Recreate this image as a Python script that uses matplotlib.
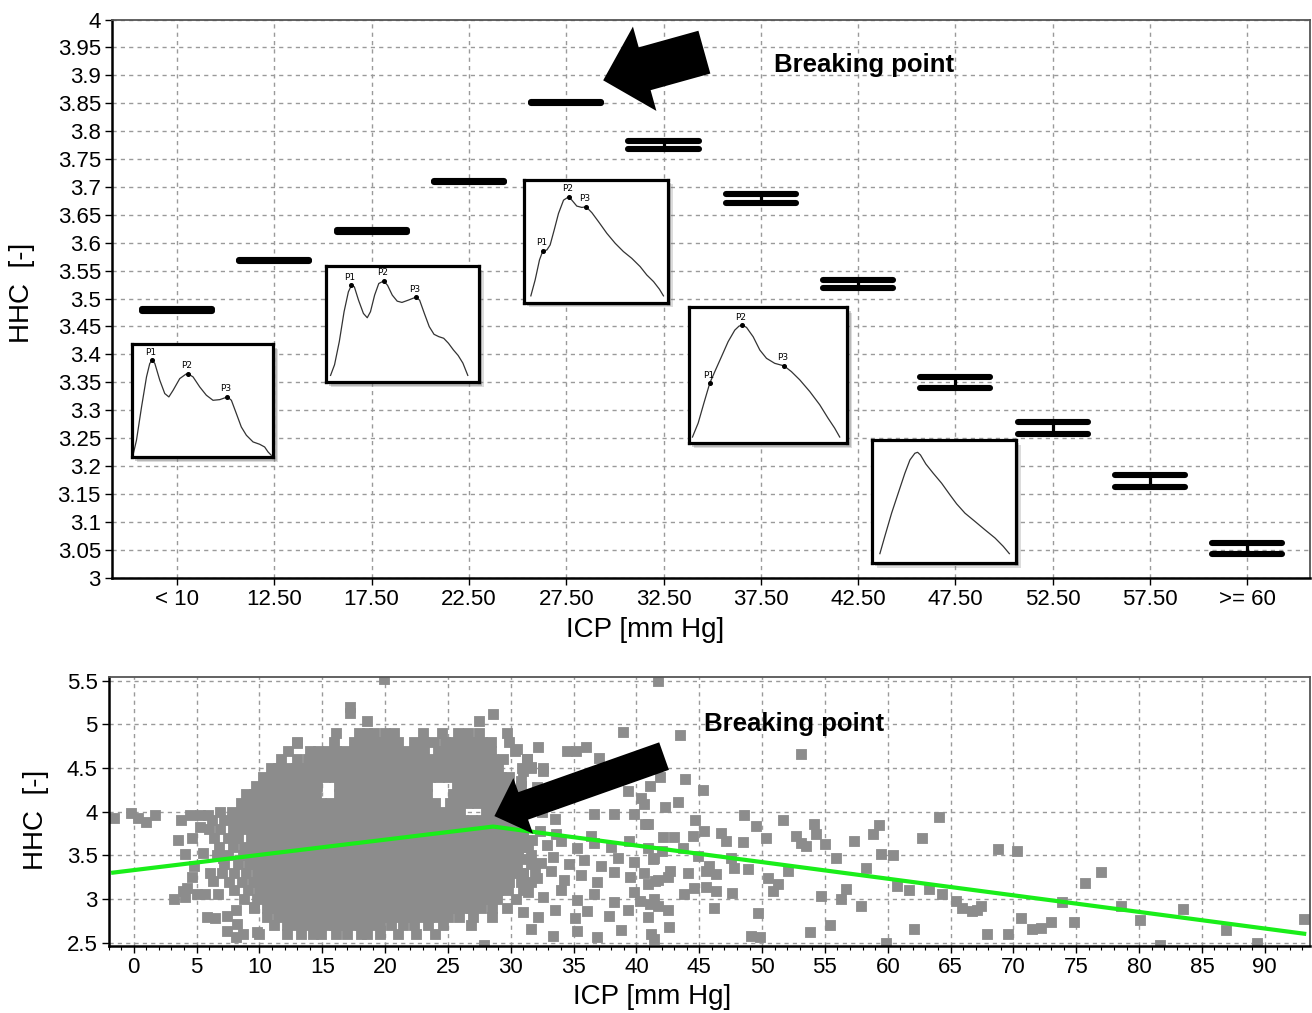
import numpy as np
import matplotlib.pyplot as plt
from matplotlib.patches import Rectangle
from matplotlib.ticker import MultipleLocator

plt.rcParams['font.family'] = ['Liberation Sans', 'DejaVu Sans']

W, H = 1312, 1013

# ---------------- top panel: HHC per ICP bin ----------------
icp_bins = ['< 10', '12.50', '17.50', '22.50', '27.50', '32.50', '37.50',
            '42.50', '47.50', '52.50', '57.50', '>= 60']
hhc_low = [3.477, 3.567, 3.620, 3.709, 3.851, 3.768, 3.672, 3.518,
           3.340, 3.258, 3.162, 3.042]
hhc_high = [3.482, 3.569, 3.622, 3.711, 3.853, 3.782, 3.688, 3.534,
            3.359, 3.279, 3.184, 3.062]

# example ICP pulse shapes (time and amplitude in % of the box)
wave1_t = [1.2, 3.5, 7.1, 10.6, 12.9, 14.6, 16.5, 20.0, 23.5, 26.4, 29.4, 34.1, 38.4, 40.0, 43.5,
           48.2, 52.9, 57.6, 62.4, 67.8, 70.6, 74.1, 77.6, 81.2, 85.9, 90.6, 94.1, 96.5, 98.8]
wave1_a = [2.4, 14.8, 44.5, 71.2, 83.1, 86.1, 83.1, 68.2, 56.4, 53.4, 59.3, 69.7, 73.6, 73.9, 71.2,
           62.3, 54.9, 50.4, 51.0, 53.4, 50.4, 38.6, 26.7, 19.3, 13.4, 11.3, 8.9, 4.5, 1.5]
wave1_peaks = [5, 13, 19]

wave2_t = [3.3, 5.9, 9.0, 12.1, 14.9, 16.9, 18.8, 21.5, 24.7, 27.2, 29.3, 32.0, 34.7, 37.9, 40.4, 43.5,
           46.7, 49.8, 54.0, 58.8, 61.3, 64.4, 67.6, 70.7, 73.8, 77.0, 80.1, 83.3, 86.4, 89.5, 92.7]
wave2_a = [5.7, 14.9, 34.9, 60.6, 77.7, 83.4, 82.0, 70.6, 59.1, 55.4, 60.6, 74.9, 84.9, 87.1, 83.4, 74.9,
           69.7, 68.6, 70.6, 73.1, 70.6, 59.1, 47.7, 41.1, 39.1, 37.7, 33.4, 27.7, 22.9, 16.3, 5.7]
wave2_peaks = [5, 13, 19]

wave3_t = [5.1, 8.1, 11.1, 13.4, 16.2, 18.5, 21.3, 24.3, 27.8, 31.3, 33.6, 37.0, 40.5, 43.5, 47.5,
           52.1, 57.9, 63.7, 69.4, 75.2, 81.0, 85.6, 90.3, 94.4, 97.2]
wave3_a = [5.4, 18.4, 34.6, 41.9, 42.7, 46.8, 58.9, 72.4, 83.2, 85.9, 83.2, 78.4, 77.3, 77.8, 73.0,
           65.7, 56.2, 48.1, 41.4, 35.9, 29.2, 22.4, 17.0, 10.8, 5.4]
wave3_peaks = [3, 9, 13]

wave4_t = [2.5, 6.1, 9.7, 13.4, 16.6, 20.8, 25.0, 29.2, 31.9, 34.0, 36.6, 40.8, 45.0, 49.2, 54.4,
           60.3, 64.9, 70.2, 76.5, 82.8, 88.0, 92.2, 95.4]
wave4_a = [4.4, 14.7, 29.4, 44.1, 52.7, 63.7, 74.8, 83.3, 86.3, 87.0, 85.3, 78.4, 68.6, 62.5, 58.8,
           56.9, 52.7, 46.6, 38.0, 28.2, 18.4, 11.0, 4.4]
wave4_peaks = [3, 9, 15]

wave5_t = [5.8, 9.2, 13.9, 18.5, 23.1, 26.6, 30.0, 31.9, 33.9, 37.6, 42.7, 48.5, 54.3, 58.9, 64.7,
           71.6, 78.5, 85.5, 91.2, 95.4]
wave5_a = [7.6, 21.6, 40.5, 56.8, 73.0, 83.8, 89.2, 90.0, 87.8, 80.5, 73.0, 64.9, 55.4, 48.1, 40.5,
           33.8, 27.0, 20.3, 13.5, 7.6]
wave5_peaks = []

# ---------------- bottom panel: HHC vs ICP scatter ----------------
# dense core, read row by row (HHC level -> ICP positions)
core_hhc = [4.9, 4.8, 4.7, 4.6, 4.5, 4.4, 4.3, 4.2, 4.1, 4.0, 3.9, 3.8,
            3.7, 3.6, 3.5, 3.4, 3.3, 3.2, 3.1, 3.0, 2.9, 2.8, 2.7, 2.6]
core_icp = [
    [16.1, 17.9, 18.6, 19.1, 20.0, 20.7, 23.0, 24.5, 25.8, 26.6, 27.5, 29.7],
    [13.0, 15.9, 17.5, 18.2, 18.9, 19.6, 20.3, 21.0, 22.3, 23.1, 23.9, 24.8, 25.5, 26.3, 27.0, 27.7,
     28.4, 29.9],
    [12.3, 14.0, 14.7, 15.4, 16.1, 16.8, 17.5, 18.2, 18.9, 19.6, 20.3, 21.0, 21.7, 22.4, 23.1, 24.2,
     24.9, 25.6, 26.3, 27.0, 27.7, 28.4, 30.3],
    [11.7, 13.0, 13.9, 14.6, 15.3, 16.0, 16.7, 17.4, 18.1, 18.8, 19.5, 20.2, 20.9, 21.6, 22.3, 23.0,
     23.7, 24.4, 25.1, 25.8, 26.5, 27.2, 27.9, 28.6, 29.4, 31.3],
    [10.9, 11.5, 12.2, 12.9, 13.6, 14.3, 15.0, 15.7, 16.4, 17.1, 17.8, 18.5, 19.2, 19.9, 20.6, 21.3,
     22.0, 22.7, 23.4, 24.1, 24.8, 25.5, 26.2, 26.9, 27.6, 28.3, 29.0, 30.9, 31.6, 32.6],
    [10.3, 11.0, 11.7, 12.4, 13.1, 13.8, 14.5, 15.2, 15.9, 16.6, 17.3, 18.0, 18.7, 19.4, 20.1, 20.8,
     21.5, 22.2, 22.9, 23.6, 24.3, 25.0, 25.7, 26.4, 27.1, 27.8, 28.5, 29.2, 29.9],
    [9.7, 10.4, 11.1, 11.8, 12.5, 13.2, 13.9, 14.6, 16.3, 17.0, 17.7, 18.4, 19.1, 19.8, 20.5, 21.2,
     21.9, 22.6, 23.3, 25.7, 26.4, 27.1, 27.8, 28.5, 29.2, 29.9, 30.8],
    [8.9, 9.6, 10.3, 11.0, 11.7, 12.4, 13.1, 13.8, 14.5, 16.3, 17.0, 17.7, 18.4, 19.1, 19.8, 20.5,
     21.2, 21.9, 22.6, 23.3, 25.4, 26.1, 26.8, 27.5, 28.2, 28.9, 29.6, 30.3],
    [8.5, 9.3, 10.0, 10.7, 11.4, 12.1, 12.8, 13.5, 14.2, 14.9, 15.6, 16.3, 17.0, 17.7, 18.4, 19.1,
     19.8, 20.5, 21.2, 21.9, 22.6, 23.3, 24.0, 25.2, 25.9, 26.6, 27.3, 28.0, 28.7, 29.4, 30.1],
    [6.9, 7.8, 8.5, 9.2, 9.9, 10.6, 11.3, 12.0, 12.7, 13.4, 14.1, 14.8, 15.5, 16.2, 16.9, 17.6,
     18.3, 19.0, 19.7, 20.4, 21.1, 21.8, 22.5, 23.2, 23.9, 24.6, 25.3, 26.0, 28.0, 28.7, 29.4, 30.1,
     32.5],
    [6.2, 7.2, 8.0, 8.7, 9.4, 10.1, 10.8, 11.5, 12.2, 12.9, 13.6, 14.3, 15.0, 15.7, 16.4, 17.1,
     17.8, 18.5, 19.2, 19.9, 20.6, 21.3, 22.0, 22.7, 23.4, 24.1, 24.8, 25.5, 26.2, 26.9, 27.6, 28.3,
     29.0, 29.7, 30.4],
    [6.0, 6.9, 7.9, 8.6, 9.3, 10.0, 10.7, 11.4, 12.1, 12.8, 13.5, 14.2, 14.9, 15.6, 16.3, 17.0,
     17.7, 18.4, 19.1, 19.8, 20.5, 21.2, 21.9, 22.6, 23.3, 24.0, 24.7, 25.4, 26.1, 26.8, 27.5, 28.2,
     28.9, 29.6, 30.3, 31.0],
    [6.4, 7.5, 8.3, 9.3, 10.0, 10.7, 11.4, 12.1, 12.8, 13.5, 14.2, 14.9, 15.6, 16.3, 17.0, 17.7,
     18.4, 19.1, 19.8, 20.5, 21.2, 21.9, 22.6, 23.3, 24.0, 24.7, 25.4, 26.1, 26.8, 27.5, 28.2, 28.9,
     29.6, 30.3, 31.0],
    [6.8, 7.9, 8.8, 9.6, 10.4, 11.1, 11.8, 12.5, 13.2, 13.9, 14.6, 15.3, 16.0, 16.7, 17.4, 18.1,
     18.8, 19.5, 20.2, 20.9, 21.6, 22.3, 23.0, 23.7, 24.4, 25.1, 25.8, 26.5, 27.2, 27.9, 28.6, 29.3,
     30.0, 30.7, 31.4],
    [6.6, 7.5, 8.7, 9.5, 10.3, 11.0, 11.7, 12.4, 13.1, 13.8, 14.5, 15.2, 15.9, 16.6, 17.3, 18.0,
     18.7, 19.4, 20.1, 20.8, 21.5, 22.2, 22.9, 23.6, 24.3, 25.0, 25.7, 26.4, 27.1, 27.8, 28.5, 29.2,
     29.9, 30.6, 31.6],
    [7.2, 8.3, 9.2, 10.0, 10.8, 11.5, 12.2, 12.9, 13.6, 14.3, 15.0, 15.7, 16.4, 17.1, 17.8, 18.5,
     19.2, 19.9, 20.6, 21.3, 22.0, 22.7, 23.4, 24.1, 24.8, 25.5, 26.2, 26.9, 27.6, 28.3, 29.0, 29.7,
     30.5, 31.6],
    [7.0, 8.0, 8.9, 9.8, 10.6, 11.3, 12.0, 12.7, 13.4, 14.1, 14.8, 15.5, 16.2, 16.9, 17.6, 18.3,
     19.0, 19.7, 20.4, 21.1, 21.8, 22.5, 23.2, 23.9, 24.6, 25.3, 26.0, 26.7, 27.4, 28.1, 28.8, 29.5,
     30.2, 31.0, 31.9],
    [7.6, 8.6, 9.5, 10.3, 11.0, 11.7, 12.4, 13.1, 13.8, 14.5, 15.2, 15.9, 16.6, 17.3, 18.0, 18.7,
     19.4, 20.1, 20.8, 21.5, 22.2, 22.9, 23.6, 24.3, 25.0, 25.7, 26.4, 27.1, 27.8, 28.5, 29.2, 29.9,
     30.8, 31.6],
    [8.0, 9.1, 10.0, 10.8, 11.5, 12.2, 12.9, 13.6, 14.3, 15.0, 15.7, 16.4, 17.1, 17.8, 18.5, 19.2,
     19.9, 20.6, 21.3, 22.0, 22.7, 23.4, 24.1, 24.8, 25.5, 26.2, 26.9, 27.6, 28.3, 29.0, 29.8, 31.0],
    [8.8, 9.8, 10.6, 11.3, 12.0, 12.7, 13.4, 14.1, 14.8, 15.5, 16.2, 16.9, 17.6, 18.3, 19.0, 19.7,
     20.4, 21.1, 21.8, 22.5, 23.2, 23.9, 24.6, 25.3, 26.0, 26.7, 27.4, 28.1, 28.9, 30.4],
    [9.6, 10.6, 11.4, 12.1, 12.8, 13.5, 14.2, 14.9, 15.6, 16.3, 17.0, 17.7, 18.4, 19.1, 19.8, 20.5,
     21.2, 21.9, 22.6, 23.3, 24.0, 24.7, 25.4, 26.1, 26.8, 27.6, 28.5, 29.7],
    [10.6, 11.5, 12.3, 13.0, 13.7, 14.4, 15.1, 15.8, 16.5, 17.2, 17.9, 18.6, 19.3, 20.0, 20.7, 21.4,
     22.1, 22.8, 23.5, 24.2, 25.0, 25.9, 27.0, 28.5],
    [11.2, 12.2, 13.0, 13.8, 14.5, 15.2, 15.9, 16.6, 17.3, 18.0, 18.8, 19.6, 20.5, 21.4, 22.3, 23.4,
     24.6, 26.8],
    [10.0, 12.2, 13.3, 14.3, 14.9, 16.1, 17.0, 18.1, 18.6, 19.6, 21.0, 22.5, 24.0],
]

# isolated points around the core
icp_sparse = [
    -1.6, -0.2, 0.3, 1.0, 1.7, 3.8, 4.5, 5.3, 5.9, 3.5, 4.6, 5.3, 4.1, 4.8, 5.5, 4.6, 4.2, 3.9,
    3.2, 4.1, 5.0, 5.7, 6.7, 6.1, 6.3, 5.8, 6.5, 7.4, 8.1, 8.2, 8.7, 9.6, 7.1, 7.4, 8.1, 9.8,
    13.0, 17.2, 17.2, 18.6, 19.9, 28.6, 27.5, 27.9,
    30.5, 31.3, 32.2, 34.5, 35.2, 36.0, 37.0, 38.9, 31.0, 31.6, 32.6, 30.8, 32.1, 33.4, 39.3, 40.4,
    40.6, 36.6, 38.2, 39.8, 40.9, 33.5,
    31.7, 32.9, 34.0, 35.3, 36.6, 38.0, 39.4, 40.9, 31.3, 32.4, 33.4, 34.6, 35.8, 37.2, 38.5, 39.8,
    41.3, 31.0, 32.1, 33.2, 34.2, 35.6, 36.9, 38.2, 39.5, 40.6, 41.7, 31.4, 32.6, 34.0, 35.3, 36.6,
    38.2, 39.8, 41.4, 31.0, 32.2, 33.5, 35.1, 36.1, 37.8, 39.3, 40.9, 31.6, 33.4, 35.3, 36.9, 38.8,
    41.2, 30.6, 32.3, 33.6, 36.4,
    41.7, 43.5, 53.1, 43.9, 45.3, 41.9, 41.1, 43.3, 42.3, 40.7, 44.7, 48.6, 49.5, 51.7, 54.1, 64.1,
    45.4, 46.7, 47.1, 48.5, 50.3, 52.7, 53.1, 53.5, 54.3, 55.0, 55.9, 57.3, 58.8, 59.3, 62.7, 59.5,
    60.4, 43.0, 43.7, 44.5, 42.1, 42.0, 41.4, 44.9, 45.5, 45.8, 46.3, 47.5, 47.8, 48.9, 52.1, 50.5,
    51.3, 50.9, 44.1, 42.7, 42.5, 41.5, 40.9, 44.6, 43.8, 45.5, 46.3, 47.6, 54.7, 56.3, 56.7, 57.9,
    58.3, 60.7, 61.7, 63.3, 64.3, 65.4, 65.9, 66.7, 67.4, 46.2, 49.7, 42.5, 40.3, 41.1, 41.7, 42.6,
    41.4, 49.1, 49.8, 53.8, 55.4, 62.1, 59.9,
    68.8, 70.3, 75.7, 77.0, 73.9, 78.6, 83.5, 67.1, 70.6, 71.5, 72.2, 73.0, 74.8, 80.1, 67.9, 69.6,
    86.9, 81.7, 89.4, 93.1,
]
hhc_sparse = [
    3.93, 3.99, 3.93, 3.88, 3.96, 3.91, 3.96, 3.96, 3.96, 3.68, 3.70, 3.83, 3.52, 3.38, 3.53, 3.25, 3.13, 3.09,
    3.00, 3.02, 3.06, 3.06, 3.06, 3.30, 3.21, 2.79, 2.78, 2.81, 2.88, 2.71, 2.60, 2.91, 3.47, 2.63, 2.56, 2.62,
    4.79, 5.20, 5.13, 5.04, 5.52, 5.12, 5.04, 2.47,
    4.72, 4.60, 4.74, 4.70, 4.69, 4.74, 4.61, 4.91, 4.47, 4.51, 4.47, 4.35, 4.28, 4.10, 4.24, 4.16,
    4.09, 3.97, 3.97, 3.97, 3.86, 3.92,
    3.68, 3.62, 3.66, 3.58, 3.64, 3.60, 3.66, 3.58, 3.46, 3.41, 3.48, 3.40, 3.45, 3.38, 3.47, 3.42,
    3.46, 3.30, 3.24, 3.32, 3.22, 3.28, 3.20, 3.31, 3.25, 3.30, 3.22, 3.08, 3.02, 3.10, 2.99, 3.06,
    2.97, 3.08, 3.00, 2.85, 2.80, 2.88, 2.78, 2.86, 2.81, 2.87, 2.79, 2.66, 2.58, 2.64, 2.57, 2.65,
    2.60, 3.58, 3.78, 3.74, 3.72,
    5.50, 4.88, 4.66, 4.37, 4.25, 4.40, 4.30, 4.11, 4.05, 3.86, 3.91, 3.96, 3.84, 3.91, 3.86, 3.94,
    3.78, 3.76, 3.67, 3.65, 3.70, 3.72, 3.64, 3.61, 3.74, 3.63, 3.47, 3.67, 3.74, 3.85, 3.70, 3.52,
    3.51, 3.71, 3.59, 3.72, 3.71, 3.55, 3.47, 3.49, 3.32, 3.38, 3.29, 3.47, 3.35, 3.34, 3.32, 3.24,
    3.17, 3.09, 3.30, 3.32, 3.25, 3.21, 3.17, 3.13, 3.06, 3.14, 3.09, 3.07, 3.04, 3.00, 3.11, 2.92,
    3.36, 3.15, 3.10, 3.11, 3.06, 2.98, 2.90, 2.86, 2.92, 2.90, 2.84, 2.88, 2.98, 2.94, 2.92, 2.68,
    2.54, 2.58, 2.56, 2.62, 2.70, 2.66, 2.50,
    3.57, 3.55, 3.18, 3.31, 2.97, 2.92, 2.89, 2.88, 2.78, 2.66, 2.67, 2.74, 2.74, 2.76, 2.60, 2.60,
    2.65, 2.47, 2.50, 2.77,
]

# piecewise linear fit with the breaking point
fit_icp = [-1.8, 28.6, 93.3]
fit_hhc = [3.30, 3.83, 2.60]


def fig_box(x0, y0, x1, y1):
    # pixel box (top-left origin) -> figure fraction [left, bottom, width, height]
    return [x0 / W, 1 - y1 / H, (x1 - x0) / W, (y1 - y0) / H]


def style_axes(ax):
    ax.set_axisbelow(True)
    ax.grid(True, which='major', color='#9a9a9a', linestyle=(0, (3, 3)), linewidth=1.0)
    for side in ['left', 'bottom']:
        ax.spines[side].set_color('black')
        ax.spines[side].set_linewidth(1.8)
    for side in ['top', 'right']:
        ax.spines[side].set_color('#555555')
        ax.spines[side].set_linewidth(1.3)
    ax.tick_params(axis='both', which='major', direction='out', length=5, width=1,
                   labelsize=16, pad=3)
    ax.tick_params(axis='both', which='minor', direction='out', length=3, width=0.8)


fig = plt.figure(figsize=(W / 100, H / 100), dpi=100)

# ---------- top ----------
ax1 = fig.add_axes(fig_box(112, 19.5, 1310, 577.5))
style_axes(ax1)
xpos = np.arange(len(icp_bins))
ax1.vlines(xpos, hhc_low, hhc_high, colors='black', linewidth=2.3, zorder=3)
ax1.hlines(hhc_low, xpos - 0.36, xpos + 0.36, colors='black', linewidth=4.4,
           capstyle='round', zorder=3)
ax1.hlines(hhc_high, xpos - 0.36, xpos + 0.36, colors='black', linewidth=4.4,
           capstyle='round', zorder=3)
ax1.set_xlim(-0.668, 11.644)
ax1.set_ylim(3, 4)
ax1.set_xticks(xpos)
ax1.set_xticklabels(icp_bins)
yt = np.round(np.arange(3, 4.001, 0.05), 2)
ax1.set_yticks(yt)
ax1.set_yticklabels([f'{v:g}' for v in yt])

ax1.annotate('', xy=(4.38, 3.891), xytext=(5.42, 3.9415),
             arrowprops=dict(arrowstyle='simple,head_length=3.1,head_width=6.3,tail_width=3.2',
                             mutation_scale=10, fc='black', lw=0, shrinkA=0, shrinkB=0),
             zorder=5)
fig.text(864 / W, 1 - 65 / H, 'Breaking point', ha='center', va='center',
         fontsize=18.5, fontweight='bold')
fig.text(22 / W, 1 - 293 / H, 'HHC  [-]', rotation=90, ha='center', va='center', fontsize=20)
fig.text(645 / W, 1 - 630 / H, 'ICP [mm Hg]', ha='center', va='center', fontsize=20)

# insets with example pulse waveforms
insets = [
    ((131.5, 344.5, 273, 457), wave1_t, wave1_a, wave1_peaks),
    ((325.5, 266, 479, 382), wave2_t, wave2_a, wave2_peaks),
    ((523.5, 179.5, 667.5, 302.5), wave3_t, wave3_a, wave3_peaks),
    ((688.5, 307.5, 847, 443), wave4_t, wave4_a, wave4_peaks),
    ((871.5, 440, 1016, 563), wave5_t, wave5_a, wave5_peaks),
]
for (x0, y0, x1, y1), wt, wa, peaks in insets:
    for off, alpha in [(5, 0.25), (3.5, 0.35)]:
        fig.add_artist(Rectangle(((x0 + off) / W, 1 - (y1 + off) / H), (x1 - x0) / W,
                                 (y1 - y0) / H, transform=fig.transFigure,
                                 color='#777777', alpha=alpha, lw=0, zorder=2))
    axi = fig.add_axes(fig_box(x0, y0, x1, y1), zorder=3)
    axi.plot(wt, wa, color='#333333', linewidth=0.9)
    for k, idx in enumerate(peaks):
        axi.plot(wt[idx], wa[idx], 'o', color='black', markersize=2.6)
        axi.annotate(f'P{k + 1}', (wt[idx], wa[idx]), xytext=(-1, 2.5),
                     textcoords='offset points', ha='center', va='bottom',
                     fontsize=6.5, family='DejaVu Sans')
    axi.set_xlim(0, 100)
    axi.set_ylim(0, 100)
    axi.set_xticks([])
    axi.set_yticks([])
    for s in axi.spines.values():
        s.set_linewidth(2.3)
        s.set_color('black')

# ---------- bottom ----------
ax2 = fig.add_axes(fig_box(108.6, 676.7, 1310, 945.7))
style_axes(ax2)
icp_core = [x for row in core_icp for x in row]
hhc_core = [lvl for lvl, row in zip(core_hhc, core_icp) for _ in row]
ax2.scatter(icp_core + icp_sparse, hhc_core + hhc_sparse, marker='s', s=48,
            c='#8c8c8c', edgecolors='#8c8c8c', linewidths=0.6, zorder=2)
ax2.plot(fit_icp, fit_hhc, color='#19ee19', linewidth=3.0, zorder=3,
         solid_capstyle='butt')
ax2.set_xlim(-2.0, 93.6)
ax2.set_ylim(2.466, 5.546)
ax2.set_xticks(np.arange(0, 91, 5))
ax2.xaxis.set_minor_locator(MultipleLocator(1))
ax2.set_yticks([2.5, 3, 3.5, 4, 4.5, 5, 5.5])
ax2.set_yticklabels(['2.5', '3', '3.5', '4', '4.5', '5', '5.5'])

ax2.annotate('', xy=(28.7, 3.95), xytext=(42.2, 4.637),
             arrowprops=dict(arrowstyle='simple,head_length=2.2,head_width=4.25,tail_width=2.1',
                             mutation_scale=10, fc='black', lw=0, shrinkA=0, shrinkB=0),
             zorder=5)
fig.text(794 / W, 1 - 724 / H, 'Breaking point', ha='center', va='center',
         fontsize=18.5, fontweight='bold')
fig.text(36 / W, 1 - 820 / H, 'HHC  [-]', rotation=90, ha='center', va='center', fontsize=20)
fig.text(652 / W, 1 - 997 / H, 'ICP [mm Hg]', ha='center', va='center', fontsize=20)

fig.savefig('out.png', dpi=100)
